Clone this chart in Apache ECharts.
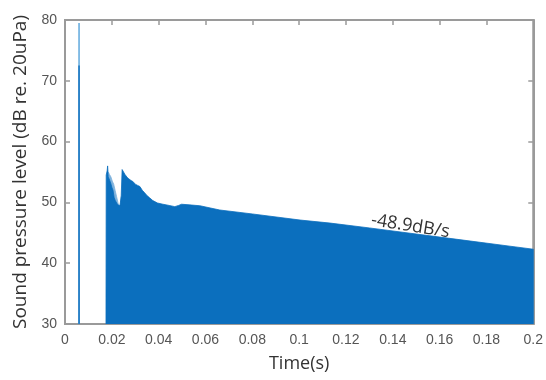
<!DOCTYPE html>
<html>
<head>
<meta charset="utf-8">
<script src="https://cdn.jsdelivr.net/npm/echarts@6/dist/echarts.min.js"></script>
<style>html,body{margin:0;padding:0;background:#fff}#c{width:546px;height:380px}</style>
</head>
<body>
<div id="c"></div>
<script>
// Envelope of the decaying sound pressure level (time in s, level in dB)
var timeS = [0.0175, 0.0176, 0.0180, 0.0182, 0.0185, 0.0190, 0.0195, 0.0200, 0.0205, 0.0210, 0.0215, 0.0220, 0.0225, 0.0230, 0.0235, 0.0240, 0.0244, 0.0250, 0.0256, 0.0262, 0.0268, 0.0275, 0.0282, 0.0291, 0.0300, 0.0310, 0.0320, 0.0330, 0.0340, 0.0348, 0.0360, 0.0375, 0.0395, 0.0418, 0.0445, 0.0469, 0.0485, 0.0498, 0.0530, 0.0576, 0.0661, 0.0800, 0.1004, 0.1132, 0.1300, 0.1500, 0.1700, 0.1900, 0.2000, 0.2000];
var splDb = [30, 54.5, 55.2, 56.0, 54.2, 54.4, 53.2, 52.5, 52.0, 50.8, 50.3, 50.0, 49.6, 49.8, 49.5, 51.0, 55.4, 55.2, 54.6, 54.8, 54.0, 53.8, 53.6, 53.4, 53.0, 52.8, 52.6, 52.0, 51.6, 51.2, 50.8, 50.3, 49.9, 49.7, 49.5, 49.3, 49.5, 49.7, 49.6, 49.45, 48.75, 48.1, 47.1, 46.6, 45.8, 44.8, 43.8, 42.8, 42.3, 30];
// Lighter fringe in the dip between the first two peaks
var fringeTime = [0.0185, 0.0190, 0.0196, 0.0202, 0.0208, 0.0214, 0.0220, 0.0226, 0.0232, 0.0235, 0.0240];
var fringeDb = [55.0, 54.6, 54.2, 53.5, 53.0, 52.0, 51.0, 50.0, 49.0, 48.3, 51.0];
// Direct-sound spike
var spikeTime = 0.006;
var spikePeakDb = 79.5;
var spikeInnerDb = 72.5;
// Annotation
var slopeText = '-48.9dB/s';
var slopeAt = [0.1475, 46.1];
var xTicks = [0, 0.02, 0.04, 0.06, 0.08, 0.1, 0.12, 0.14, 0.16, 0.18, 0.2];
var yTicks = [30, 40, 50, 60, 70, 80];

function zip(a, b) { return a.map(function (v, i) { return [v, b[i]]; }); }

var axisGray = '#9a9a9a';
var labelGray = '#555';
var tickFont = 'Liberation Sans, Arial, sans-serif';
var nameFont = 'Open Sans, Noto Sans, sans-serif';
var xMin = xTicks[0], xMax = xTicks[xTicks.length - 1];
var yMin = yTicks[0], yMax = yTicks[yTicks.length - 1];

function secondaryAxis(kind) {
  return {
    type: 'value', position: kind === 'x' ? 'top' : 'right',
    min: kind === 'x' ? xMin : yMin, max: kind === 'x' ? xMax : yMax, interval: kind === 'x' ? 0.02 : 10,
    axisLine: {show: true, onZero: false, lineStyle: {color: axisGray, width: 2}},
    axisTick: {show: true, inside: true, length: 5, lineStyle: {color: axisGray, width: 1.5}},
    axisLabel: {show: false},
    splitLine: {show: false}
  };
}

var chart = echarts.init(document.getElementById('c'), null, {renderer: 'canvas'});
chart.setOption({
  animation: false,
  backgroundColor: '#fff',
  grid: {left: 65, right: 12, top: 20, bottom: 56, show: true, borderColor: axisGray, borderWidth: 2},
  xAxis: [{
    type: 'value', min: xMin, max: xMax, interval: 0.02,
    name: 'Time(s)', nameLocation: 'middle', nameGap: 31,
    nameTextStyle: {fontFamily: nameFont, fontSize: 18, color: '#333'},
    axisLine: {show: true, onZero: false, lineStyle: {color: axisGray, width: 2}},
    axisTick: {show: true, inside: true, length: 5, lineStyle: {color: axisGray, width: 1.5}},
    axisLabel: {fontFamily: tickFont, fontSize: 14, color: labelGray, margin: 9,
      formatter: function (v) { return String(parseFloat(v.toFixed(2))); }},
    splitLine: {show: false}
  }, secondaryAxis('x')],
  yAxis: [{
    type: 'value', min: yMin, max: yMax, interval: 10,
    name: 'Sound pressure level (dB re. 20uPa)', nameLocation: 'middle', nameGap: 32,
    nameTextStyle: {fontFamily: nameFont, fontSize: 19, color: '#333'},
    axisLine: {show: true, onZero: false, lineStyle: {color: axisGray, width: 2}},
    axisTick: {show: true, inside: true, length: 5, lineStyle: {color: axisGray, width: 1.5}},
    axisLabel: {fontFamily: tickFont, fontSize: 14, color: labelGray, margin: 8},
    splitLine: {show: false}
  }, secondaryAxis('y')],
  series: [{
    type: 'line', name: 'fringe', data: zip(fringeTime, fringeDb), symbol: 'none',
    lineStyle: {width: 0.8, color: '#7fb2dc'}, areaStyle: {color: '#7fb2dc', opacity: 1, origin: 'start'},
    z: 1
  }, {
    type: 'line', name: 'spl', data: zip(timeS, splDb), symbol: 'none',
    lineStyle: {width: 0.8, color: '#0b6fbe'}, areaStyle: {color: '#0b6fbe', opacity: 1, origin: 'start'},
    z: 2,
    markPoint: {
      symbol: 'circle', symbolSize: 0,
      data: [{coord: slopeAt, value: slopeText}],
      label: {show: true, position: 'inside', formatter: slopeText, rotate: -9,
        fontFamily: nameFont, fontSize: 18, color: '#333'}
    }
  }, {
    type: 'line', name: 'spikeOuter', data: [[spikeTime, yMin], [spikeTime, spikePeakDb]], symbol: 'none',
    lineStyle: {width: 1.6, color: '#6aaee0'}, z: 3
  }, {
    type: 'line', name: 'spikeInner', data: [[spikeTime, yMin], [spikeTime, spikeInnerDb]], symbol: 'none',
    lineStyle: {width: 1.6, color: '#1c78c2'}, z: 4
  }]
});
</script>
</body>
</html>
